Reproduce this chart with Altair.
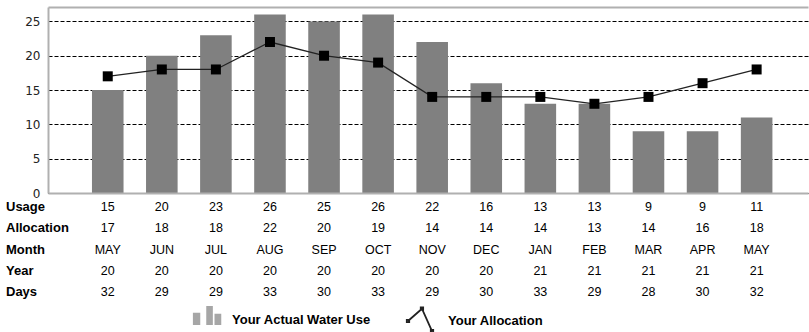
import altair as alt
import pandas as pd

# Billing periods
months = ["MAY", "JUN", "JUL", "AUG", "SEP", "OCT", "NOV", "DEC", "JAN", "FEB", "MAR", "APR", "MAY"]
years = ["20", "20", "20", "20", "20", "20", "20", "20", "21", "21", "21", "21", "21"]
days = [32, 29, 29, 33, 30, 33, 29, 30, 33, 29, 28, 30, 32]

# Water use vs. allocation per period
usage = [15, 20, 23, 26, 25, 26, 22, 16, 13, 13, 9, 9, 11]
allocation = [17, 18, 18, 22, 20, 19, 14, 14, 14, 13, 14, 16, 18]

row_names = ["Usage", "Allocation", "Month", "Year", "Days"]
use_label = "Your Actual Water Use"
alloc_label = "Your Allocation"

idx = list(range(len(months)))
series = pd.DataFrame({
    "idx": idx,
    "usage": usage,
    "allocation": allocation,
    "use_series": use_label,
    "alloc_series": alloc_label,
})

row_values = {
    "Usage": [str(v) for v in usage],
    "Allocation": [str(v) for v in allocation],
    "Month": months,
    "Year": years,
    "Days": [str(v) for v in days],
}
table = pd.DataFrame(
    [{"row": r, "idx": i, "value": row_values[r][i]} for r in row_names for i in idx]
)
headers = pd.DataFrame({"row": row_names})

FONT = "Liberation Sans"
BORDER = "#b0b0b0"

x_scale = alt.Scale(domain=[-1.105, 12.95], nice=False, zero=False)
y_scale = alt.Scale(domain=[0, 27.1], nice=False, zero=True)
row_scale = alt.Scale(type="point", domain=row_names, range=[200, 285], padding=0)

bottom_axis = alt.Axis(orient="bottom", labels=False, ticks=False, grid=False, title=None,
                       domainColor=BORDER, domainWidth=2, zindex=1)
top_axis = alt.Axis(orient="top", labels=False, ticks=False, grid=False, title=None,
                    domainColor=BORDER, domainWidth=2, zindex=1)
y_axis = alt.Axis(values=[0, 5, 10, 15, 20, 25], grid=True, gridDash=[4, 2], gridColor="black",
                  gridOpacity=1, gridWidth=1, ticks=False, domainColor=BORDER, domainWidth=2,
                  labelPadding=8, labelFont="DejaVu Sans", labelFontSize=12, labelColor="#222",
                  title=None)

# Legend glyphs: three small bars, and a zig-zag with dots at the corners
bars_glyph = ("M-0.94,-0.49H-0.45V0.33H-0.94Z "
              "M-0.05,-0.93H0.39V0.33H-0.05Z "
              "M0.5,-0.42H0.95V0.33H0.5Z")
line_glyph = ("M-0.8,0L0.13,-0.82L0.8,0.67 "
              "M-0.88,-0.08h0.16v0.16h-0.16Z "
              "M0.05,-0.9h0.16v0.16h-0.16Z "
              "M0.72,0.59h0.16v0.16h-0.16Z")

bars = alt.Chart(series).transform_calculate(
    x0="datum.idx - 0.292", x1="datum.idx + 0.292"
).mark_bar().encode(
    x=alt.X("x0:Q", scale=x_scale, axis=bottom_axis),
    x2="x1:Q",
    y=alt.Y("usage:Q", scale=y_scale, axis=y_axis),
    y2=alt.Y2(datum=0),
    fill=alt.Fill("use_series:N",
                  scale=alt.Scale(domain=[use_label], range=["#808080"]),
                  legend=alt.Legend(orient="none", legendX=144, legendY=298, title=None,
                                    padding=0, symbolType=bars_glyph, symbolSize=900,
                                    symbolOpacity=0.7, symbolStrokeWidth=0, labelOffset=10,
                                    labelFont=FONT, labelFontSize=13, labelFontWeight="bold",
                                    labelColor="black", labelLimit=300)),
)

line = alt.Chart(series).mark_line(strokeWidth=1.3).encode(
    x=alt.X("idx:Q", scale=x_scale, axis=top_axis),
    y=alt.Y("allocation:Q", scale=y_scale, axis=None),
    stroke=alt.Stroke("alloc_series:N",
                      scale=alt.Scale(domain=[alloc_label], range=["#222222"]),
                      legend=alt.Legend(orient="none", legendX=356, legendY=298, title=None,
                                        padding=0, symbolType=line_glyph, symbolSize=900,
                                        symbolStrokeWidth=1.8, symbolFillColor="transparent",
                                        labelOffset=12, labelFont=FONT, labelFontSize=13,
                                        labelFontWeight="bold", labelColor="black",
                                        labelLimit=300)),
)

points = alt.Chart(series).mark_point(shape="square", filled=True, size=100,
                                      color="black", opacity=1).encode(
    x=alt.X("idx:Q", scale=x_scale, axis=None),
    y=alt.Y("allocation:Q", scale=y_scale, axis=None),
)

cells = alt.Chart(table).mark_text(font=FONT, fontSize=12.5, color="black",
                                   align="center", baseline="middle").encode(
    x=alt.X("idx:Q", scale=x_scale, axis=None),
    y=alt.Y("row:N", scale=row_scale, axis=None),
    text="value:N",
)

row_heads = alt.Chart(headers).mark_text(font=FONT, fontSize=13, fontWeight="bold",
                                         color="black", align="left", baseline="middle").encode(
    x=alt.value(-42),
    y=alt.Y("row:N", scale=row_scale, axis=None),
    text="row:N",
)

chart = alt.layer(bars, line, points, cells, row_heads).resolve_scale(
    y="independent", fill="independent", stroke="independent"
).resolve_axis(
    x="independent"
).properties(
    width=760, height=186,
    padding={"left": 48, "top": 7, "right": 1, "bottom": 139},
    autosize=alt.AutoSizeParams(type="none"),
    background="white",
).configure_view(stroke=None)

chart.save("out.html", embed_options={"renderer": "svg", "actions": False})
